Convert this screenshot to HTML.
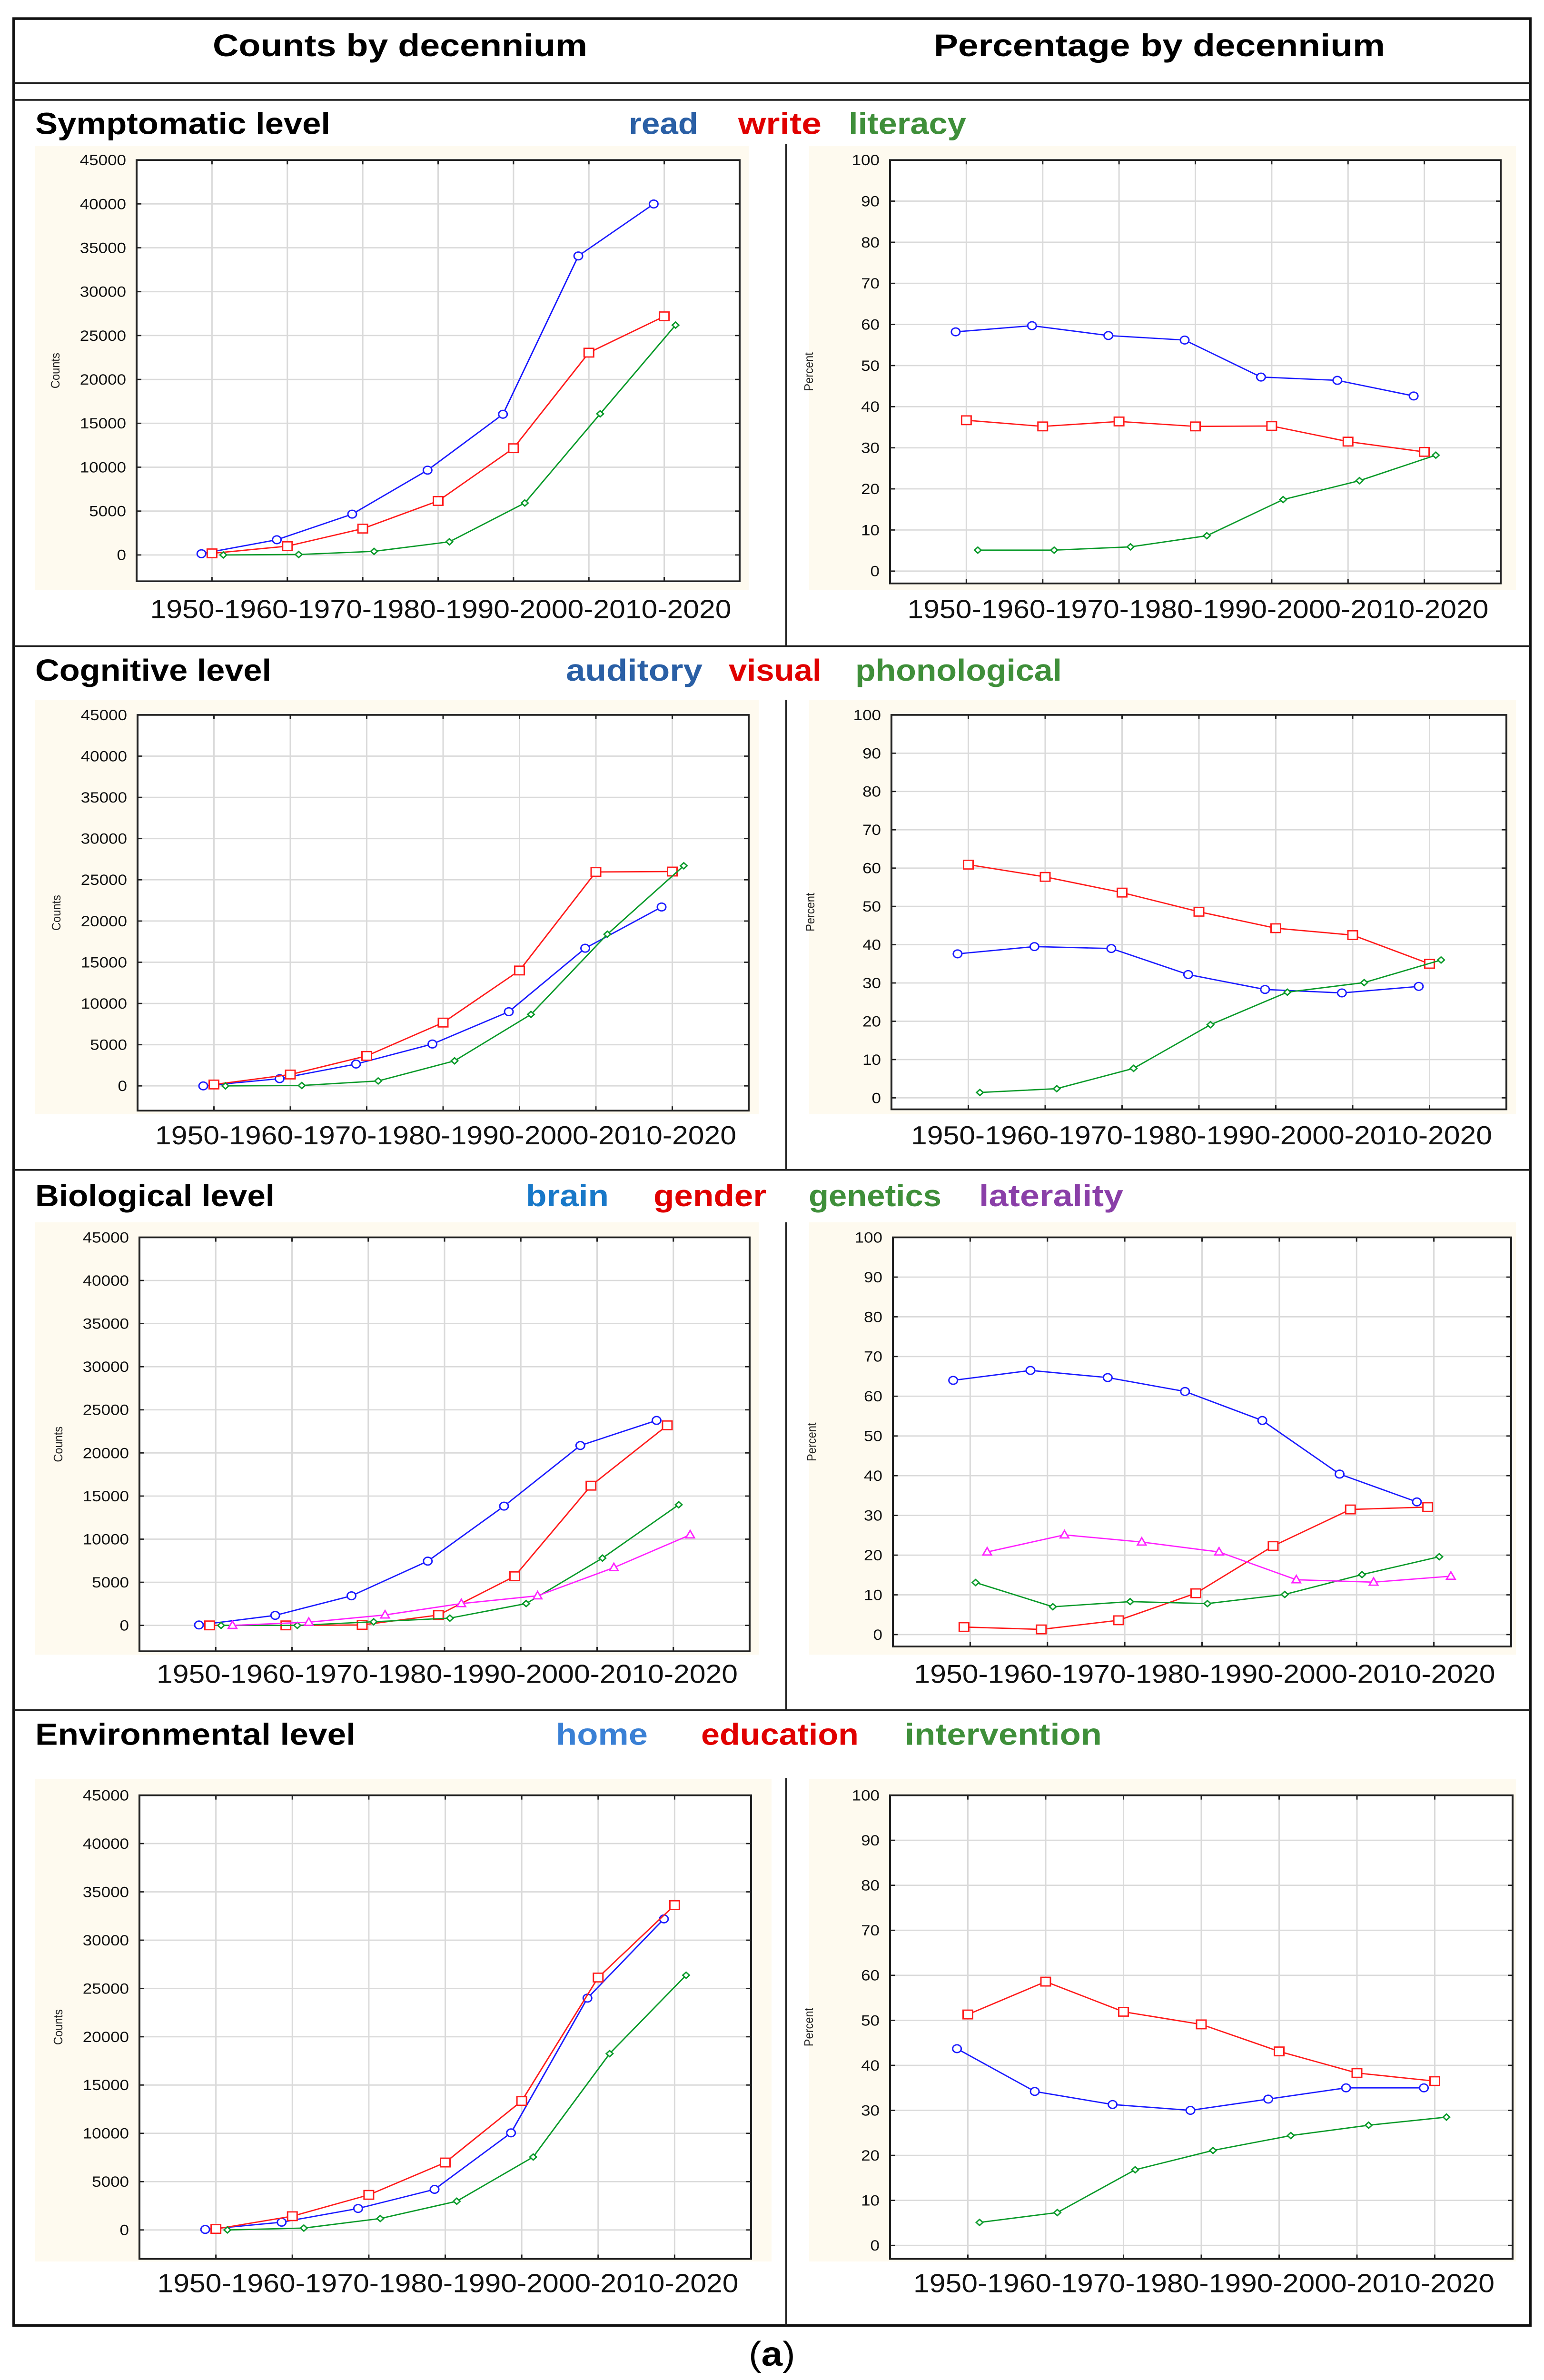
<!DOCTYPE html>
<html><head><meta charset="utf-8">
<style>
html,body{margin:0;padding:0;background:#fff;overflow:hidden;}
svg{display:block;position:fixed;left:0;top:0;width:100vw;height:100vh;}
text{font-family:"Liberation Sans",sans-serif;}
</style></head>
<body>
<svg id="fig" viewBox="0 0 3244 5503" preserveAspectRatio="none" xmlns="http://www.w3.org/2000/svg">
<rect x="0" y="0" width="3244" height="5503" fill="#fff"/>
<g id="frame">
<rect x="29" y="43" width="3186" height="5334" fill="none" stroke="#111" stroke-width="6"/>
<line x1="29" y1="192" x2="3215" y2="192" stroke="#222" stroke-width="4"/>
<line x1="29" y1="231" x2="3215" y2="231" stroke="#222" stroke-width="4"/>
<line x1="29" y1="1494" x2="3215" y2="1494" stroke="#222" stroke-width="4"/>
<line x1="29" y1="2705" x2="3215" y2="2705" stroke="#222" stroke-width="4"/>
<line x1="29" y1="3954" x2="3215" y2="3954" stroke="#222" stroke-width="4"/>
<line x1="1652" y1="333" x2="1652" y2="1494" stroke="#222" stroke-width="4"/>
<line x1="1652" y1="1618" x2="1652" y2="2705" stroke="#222" stroke-width="4"/>
<line x1="1652" y1="2826" x2="1652" y2="3954" stroke="#222" stroke-width="4"/>
<line x1="1652" y1="4111" x2="1652" y2="5377" stroke="#222" stroke-width="4"/>
</g>
<text x="447" y="130" font-size="72" font-weight="bold" textLength="787" lengthAdjust="spacingAndGlyphs" fill="#000">Counts by decennium</text>
<text x="1962" y="130" font-size="72" font-weight="bold" textLength="948" lengthAdjust="spacingAndGlyphs" fill="#000">Percentage by decennium</text>
<text x="1573" y="5470" font-size="80" font-family="Liberation Serif, serif" fill="#000">(<tspan font-weight="bold">a</tspan>)</text>
<g id="charts"></g>
</svg>
<script>
// ---- data ----
const categories = ["1950","1960","1970","1980","1990","2000","2010"];
const xAxisLabel = "1950-1960-1970-1980-1990-2000-2010-2020";
const countTicks = [0,5000,10000,15000,20000,25000,30000,35000,40000,45000];
const percentTicks = [0,10,20,30,40,50,60,70,80,90,100];

const levelNames = ["Symptomatic level","Cognitive level","Biological level","Environmental level"];

const symptomaticSeries = ["read","write","literacy"];
const symptomaticCounts_read = [140,1730,4650,9660,16030,34070,39990];
const symptomaticCounts_write = [180,1000,3000,6150,12160,23050,27190];
const symptomaticCounts_literacy = [0,50,410,1500,5920,16080,26190];
const symptomaticPct_read = [58.2,59.7,57.3,56.2,47.2,46.4,42.6];
const symptomaticPct_write = [36.7,35.2,36.4,35.2,35.3,31.5,29.0];
const symptomaticPct_literacy = [5.1,5.1,5.9,8.6,17.4,22.0,28.2];

const cognitiveSeries = ["auditory","visual","phonological"];
const cognitiveCounts_auditory = [0,880,2650,5080,9000,16700,21700];
const cognitiveCounts_visual = [170,1380,3640,7680,14000,25950,26000];
const cognitiveCounts_phonological = [0,50,600,3040,8670,18400,26700];
const cognitivePct_auditory = [37.6,39.5,39.0,32.2,28.3,27.4,29.1];
const cognitivePct_visual = [60.9,57.7,53.6,48.6,44.3,42.5,35.0];
const cognitivePct_phonological = [1.4,2.4,7.7,19.1,27.6,30.1,36.0];

const biologicalSeries = ["brain","gender","genetics","laterality"];
const biologicalCounts_brain = [50,1160,3430,7450,13830,20860,23770];
const biologicalCounts_gender = [0,0,50,1200,5700,16200,23200];
const biologicalCounts_genetics = [0,0,420,840,2530,7800,13990];
const biologicalCounts_laterality = [0,370,1210,2530,3430,6700,10500];
const biologicalPct_brain = [64.0,66.5,64.7,61.2,53.9,40.4,33.4];
const biologicalPct_gender = [1.9,1.3,3.6,10.4,22.3,31.5,32.1];
const biologicalPct_genetics = [13.1,7.0,8.3,7.8,10.1,15.1,19.6];
const biologicalPct_laterality = [20.8,25.1,23.3,20.8,13.8,13.2,14.7];

const environmentalSeries = ["home","education","intervention"];
const environmentalCounts_home = [50,800,2220,4200,10050,24000,32200];
const environmentalCounts_education = [100,1420,3630,6980,13350,26130,33630];
const environmentalCounts_intervention = [0,190,1180,2970,7550,18250,26370];
const environmentalPct_home = [43.7,34.2,31.3,30.0,32.5,35.0,35.0];
const environmentalPct_education = [51.3,58.6,51.9,49.1,43.1,38.3,36.5];
const environmentalPct_intervention = [5.1,7.3,16.8,21.1,24.4,26.7,28.5];

// ---- layout / styling ----
const NS = "http://www.w3.org/2000/svg";
const root = document.getElementById("charts");
function mk(tag, attrs, parent){
  const e = document.createElementNS(NS, tag);
  for (const k in attrs) e.setAttribute(k, attrs[k]);
  (parent||root).appendChild(e);
  return e;
}
const lineColors = ["#1c1cff","#ff1c1c","#0a9a2a","#ff22ff"];
const markerKinds = ["circle","square","diamond","triangle"];
const offsets3 = [-0.14,0,0.15];
const offsets4 = [-0.22,-0.08,0.07,0.22];

const rows = [
  {name:levelNames[0], titleY:310, titleW:620, tanTop:338, tanBot:1364, lab:1429,
   legend:[["read",1321,146,"#2a5fa5"],["write",1551,175,"#e00000"],["literacy",1783,247,"#3f8f3a"]],
   L:{x0:287,x1:1554,y0:370,y1:1344}, R:{x0:1870,x1:3153,y0:370,y1:1349},
   counts:[symptomaticCounts_read,symptomaticCounts_write,symptomaticCounts_literacy],
   pct:[symptomaticPct_read,symptomaticPct_write,symptomaticPct_literacy], tanRight:1573},
  {name:levelNames[1], titleY:1574, titleW:496, tanTop:1618, tanBot:2576, lab:2646,
   legend:[["auditory",1189,287,"#2a5fa5"],["visual",1531,195,"#e00000"],["phonological",1797,434,"#3f8f3a"]],
   L:{x0:289,x1:1573,y0:1653,y1:2568}, R:{x0:1873,x1:3165,y0:1653,y1:2565},
   counts:[cognitiveCounts_auditory,cognitiveCounts_visual,cognitiveCounts_phonological],
   pct:[cognitivePct_auditory,cognitivePct_visual,cognitivePct_phonological], tanRight:1594},
  {name:levelNames[2], titleY:2789, titleW:503, tanTop:2826, tanBot:3826, lab:3891,
   legend:[["brain",1105,174,"#1878c8"],["gender",1373,237,"#e00000"],["genetics",1699,279,"#3f8f3a"],["laterality",2057,303,"#8a3fa8"]],
   L:{x0:293,x1:1575,y0:2861,y1:3818}, R:{x0:1876,x1:3175,y0:2861,y1:3807},
   counts:[biologicalCounts_brain,biologicalCounts_gender,biologicalCounts_genetics,biologicalCounts_laterality],
   pct:[biologicalPct_brain,biologicalPct_gender,biologicalPct_genetics,biologicalPct_laterality], tanRight:1594},
  {name:levelNames[3], titleY:4034, titleW:673, tanTop:4114, tanBot:5229, lab:5300,
   legend:[["home",1168,193,"#3a80d5"],["education",1473,331,"#e00000"],["intervention",1901,414,"#3f8f3a"]],
   L:{x0:293,x1:1578,y0:4151,y1:5223}, R:{x0:1870,x1:3178,y0:4151,y1:5223},
   counts:[environmentalCounts_home,environmentalCounts_education,environmentalCounts_intervention],
   pct:[environmentalPct_home,environmentalPct_education,environmentalPct_intervention], tanRight:1621}
];

function marker(g, kind, cx, cy, color){
  let m;
  if (kind==="circle") m = mk("circle",{cx:cx,cy:cy,r:9,fill:"#fff",stroke:color,"stroke-width":3},g);
  else if (kind==="square") m = mk("rect",{x:cx-10,y:cy-10,width:20,height:20,fill:"#fff",stroke:color,"stroke-width":3},g);
  else if (kind==="diamond") m = mk("polygon",{points:`${cx},${cy-7} ${cx+7},${cy} ${cx},${cy+7} ${cx-7},${cy}`,fill:"#fff",stroke:color,"stroke-width":3},g);
  else m = mk("polygon",{points:`${cx},${cy-10} ${cx+9},${cy+7} ${cx-9},${cy+7}`,fill:"#fff",stroke:color,"stroke-width":3},g);
  
  
}

function drawChart(box, ticks, yMin, yMax, series, names, yTitle, labY, rowName){
  const g = mk("g",{});
  
  
  const n = categories.length;
  const xs = (i)=> box.x0 + (box.x1-box.x0)*(i+1)/(n+1);
  const ys = (v)=> box.y1 - (v-yMin)/(yMax-yMin)*(box.y1-box.y0);
  mk("rect",{x:box.x0,y:box.y0,width:box.x1-box.x0,height:box.y1-box.y0,fill:"#fff"},g);
  ticks.forEach(t=>{
    const y = ys(t);
    const gl = mk("line",{x1:box.x0,x2:box.x1,y1:y,y2:y,stroke:"#dadada","stroke-width":3},g);
    
    
    mk("line",{x1:box.x0,x2:box.x0+10,y1:y,y2:y,stroke:"#222","stroke-width":3},g);
    mk("line",{x1:box.x1-10,x2:box.x1,y1:y,y2:y,stroke:"#222","stroke-width":3},g);
    const tl = mk("text",{x:box.x0-22,y:y+12,"font-size":35,"text-anchor":"end",fill:"#111"},g);
    tl.textContent = String(t);
    
    
  });
  for (let i=0;i<n;i++){
    const x = xs(i);
    const vl = mk("line",{x1:x,x2:x,y1:box.y0,y2:box.y1,stroke:"#dadada","stroke-width":3},g);
    
    
    mk("line",{x1:x,x2:x,y1:box.y0,y2:box.y0+10,stroke:"#222","stroke-width":3},g);
    mk("line",{x1:x,x2:x,y1:box.y1-10,y2:box.y1,stroke:"#222","stroke-width":3},g);
  }
  const fr = mk("rect",{x:box.x0,y:box.y0,width:box.x1-box.x0,height:box.y1-box.y0,fill:"none",stroke:"#222","stroke-width":4},g);
  
  
  const offs = series.length===4 ? offsets4 : offsets3;
  series.forEach((vals,si)=>{
    const col = lineColors[si];
    const pts = vals.map((v,i)=> [xs(i+offs[si]), ys(v)]);
    const pl = mk("polyline",{points:pts.map(p=>p.join(",")).join(" "),fill:"none",stroke:col,"stroke-width":3},g);
    
    
    pts.forEach(p=> marker(g, markerKinds[si], p[0], p[1], col));
  });
  const yt = mk("text",{transform:`translate(${box.x0-162},${(box.y0+box.y1)/2}) rotate(-90)`,"font-size":26,"text-anchor":"middle",fill:"#222"},g);
  yt.textContent = yTitle;
  
  
  const xl = mk("text",{x:(box.x0+box.x1)/2 - 605,y:labY,"font-size":60,fill:"#111",textLength:1221,lengthAdjust:"spacingAndGlyphs"},g);
  xl.textContent = xAxisLabel;
  
  
}

rows.forEach((r,ri)=>{
  const key = r.name.split(" ")[0].toLowerCase();
  const t = mk("text",{x:74,y:r.titleY,"font-size":70,"font-weight":"bold",fill:"#000",textLength:r.titleW,lengthAdjust:"spacingAndGlyphs"});
  t.textContent = r.name;
  
  
  r.legend.forEach(l=>{
    const lt = mk("text",{x:l[1],y:r.titleY,"font-size":70,"font-weight":"bold",fill:l[3],textLength:l[2],lengthAdjust:"spacingAndGlyphs"});
    lt.textContent = l[0];
    
    
  });
  const bg1 = mk("rect",{x:74,y:r.tanTop,width:r.tanRight-74,height:r.tanBot-r.tanTop,fill:"#fefaef"});
  
  
  const bg2 = mk("rect",{x:1700,y:r.tanTop,width:3185-1700,height:r.tanBot-r.tanTop,fill:"#fefaef"});
  
  
  const names = r.legend.map(l=>l[0]);
  drawChart(r.L, countTicks, -3000, 45000, r.counts, names, "Counts", r.lab, key);
  drawChart(r.R, percentTicks, -3, 100, r.pct, names, "Percent", r.lab, key);
});
</script>
</body></html>
